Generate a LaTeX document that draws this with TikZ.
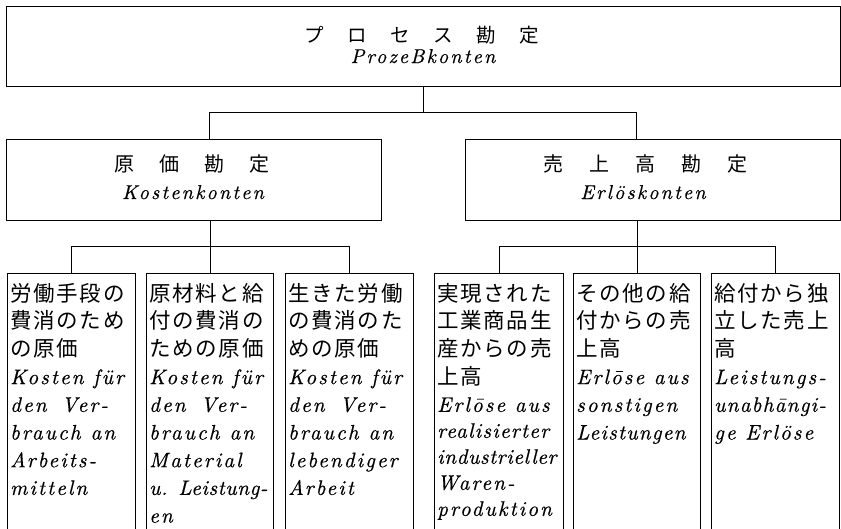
\documentclass[tikz,border=0pt]{standalone}
\usepackage{fontspec}
\setmainfont{Latin Modern Roman}
\newfontfamily\jpfont{Noto Sans CJK JP}
\newfontfamily\jpbody[LetterSpace=8]{Noto Sans CJK JP}
\newfontfamily\itsp[LetterSpace=10,RawFeature={embolden=0.5}]{lmroman10-italic.otf}
\newfontfamily\itm[LetterSpace=6,RawFeature={embolden=0.5}]{lmroman10-italic.otf}
\newfontfamily\itn[LetterSpace=3,RawFeature={embolden=0.5}]{lmroman10-italic.otf}
\newfontfamily\ithead[LetterSpace=11,RawFeature={embolden=0.5}]{lmroman10-italic.otf}
\newcommand{\boxtext}[2]{\parbox[t]{128pt}{\fontsize{21}{27.7}\itsp\raggedright{\fontsize{21.5}{27.7}\jpbody #1}\\#2}}
\tikzset{
  frame/.style={draw, line width=1pt, inner sep=0pt, anchor=north west},
  lowbox/.style={frame, minimum height=270pt},
  conn/.style={line width=0.8pt},
  label/.style={inner sep=0pt, anchor=base},
  body/.style={inner sep=0pt, anchor=base west}
}
\begin{document}
\begin{tikzpicture}[x=1pt,y=-1pt]
\path[use as bounding box, clip] (0,0) rectangle (841,528);
% top
\node[frame, minimum width=834pt, minimum height=80pt] (top) at (5.5,6) {};
\node[label] (topjp) at (422,42) {\fontsize{19.5}{20}\jpfont プ\hspace{23.5pt}ロ\hspace{23.5pt}セ\hspace{23.5pt}ス\hspace{23.5pt}勘\hspace{23.5pt}定};
\node[label] (topde) at (423,63) {\fontsize{20}{20}\ithead ProzeBkonten};
% middle
\node[frame, minimum width=375.5pt, minimum height=81pt] (kost) at (5.5,139) {};
\node[frame, minimum width=374.5pt, minimum height=81pt] (erl) at (465,139) {};
\node[label] (kostjp) at (192,171) {\fontsize{20}{20}\jpfont 原\hspace{25pt}価\hspace{25pt}勘\hspace{25pt}定};
\node[label] (kostde) at (193,199) {\fontsize{20}{20}\ithead Kostenkonten};
\node[label] (erljp) at (645,171) {\fontsize{20}{20}\jpfont 売\hspace{26pt}上\hspace{26pt}高\hspace{26pt}勘\hspace{26pt}定};
\node[label] (erlde) at (643,199) {\fontsize{20}{20}\ithead Erlöskonten};
% bottom boxes
\node[lowbox, minimum width=128pt] (b1) at (7,273) {};
\node[lowbox, minimum width=127pt] (b2) at (146,273) {};
\node[lowbox, minimum width=128pt] (b3) at (285,273) {};
\node[lowbox, minimum width=129pt] (b4) at (434,273) {};
\node[lowbox, minimum width=127pt] (b5) at (573,273) {};
\node[lowbox, minimum width=128pt] (b6) at (711,273) {};
\node[body] (t1) at (10,301) {\boxtext{労働手段の\\費消のため\\の原価}{Kosten für\\den\hspace{15pt}Ver-\\brauch\hspace{10pt}an\\Arbeits-\\mitteln}};
\node[body] (t2) at (149,301) {\boxtext{原材料と給\\付の費消の\\ための原価}{Kosten für\\den\hspace{15pt}Ver-\\brauch\hspace{10pt}an\\Material\\{\itn u. Leistung-}\\en}};
\node[body] (t3) at (288,301) {\boxtext{生きた労働\\の費消のた\\めの原価}{Kosten für\\den\hspace{15pt}Ver-\\brauch\hspace{10pt}an\\lebendiger\\Arbeit}};
\node[body] (t4) at (437,301) {\boxtext{実現された\\工業商品生\\産からの売\\上高}{Erlōse aus\\[-1.7pt]{\itm realisierter}\\[-1.7pt]{\itn industrieller}\\[-1.7pt]Waren-\\[-1.7pt]produktion}};
\node[body] (t5) at (576,301) {\boxtext{その他の給\\付からの売\\上高}{Erlōse aus\\sonstigen\\{\itm Leistungen}}};
\node[body] (t6) at (714,301) {\boxtext{給付から独\\立した売上\\高}{Leistungs-\\{\itm unabhāngi-}\\ge Erlöse}};
% connectors
\coordinate (h1) at (209.5,112);
\coordinate (h2) at (636.5,112);
\coordinate (l1) at (0,246);
\draw[conn] (top.south) -- (top.south |- h1);
\draw[conn] (h1 |- kost.north) -- (h1) -- (h2) -- (h2 |- erl.north);
\draw[conn] (b2.north |- kost.south) -- (b2.north);
\draw[conn] (b1.north) -- (b1.north |- l1) -- (b3.north |- l1) -- (b3.north);
\draw[conn] (b5.north |- erl.south) -- (b5.north);
\draw[conn] (b4.north) -- (b4.north |- l1) -- (b6.north |- l1) -- (b6.north);
\end{tikzpicture}
\end{document}
